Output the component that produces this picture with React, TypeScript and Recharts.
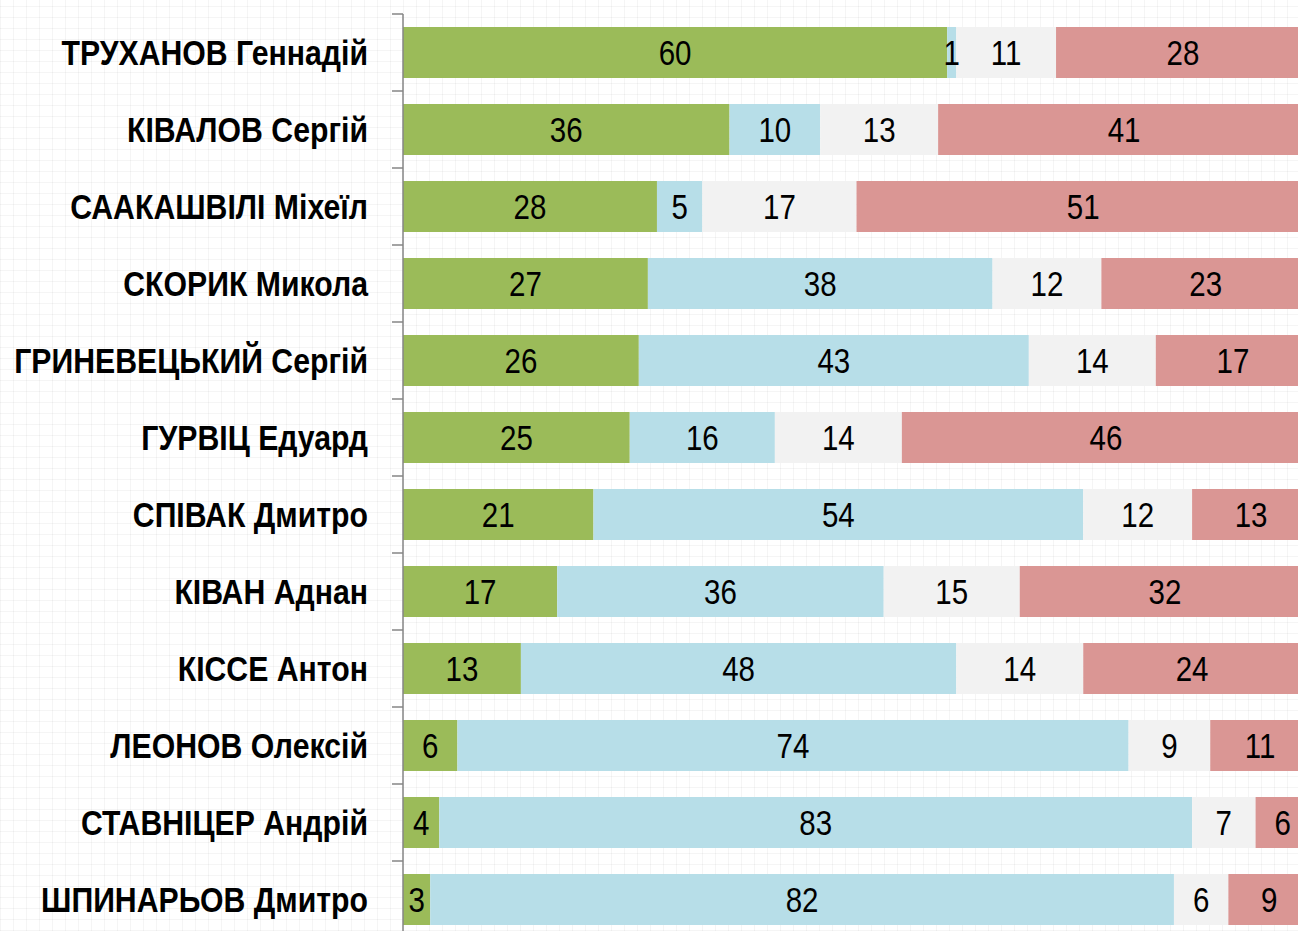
import React from "react";
import { BarChart, Bar, XAxis, YAxis, LabelList } from "recharts";

const names = [
  "ТРУХАНОВ Геннадій",
  "КІВАЛОВ Сергій",
  "СААКАШВІЛІ Міхеїл",
  "СКОРИК Микола",
  "ГРИНЕВЕЦЬКИЙ Сергій",
  "ГУРВІЦ Едуард",
  "СПІВАК Дмитро",
  "КІВАН Аднан",
  "КІССЕ Антон",
  "ЛЕОНОВ Олексій",
  "СТАВНІЦЕР Андрій",
  "ШПИНАРЬОВ Дмитро",
];
const greenVals = [60, 36, 28, 27, 26, 25, 21, 17, 13, 6, 4, 3];
const blueVals = [1, 10, 5, 38, 43, 16, 54, 36, 48, 74, 83, 82];
const grayVals = [11, 13, 17, 12, 14, 14, 12, 15, 14, 9, 7, 6];
const redVals = [28, 41, 51, 23, 17, 46, 13, 32, 24, 11, 6, 9];

const data = names.map((name, i) => ({
  name,
  a: greenVals[i],
  b: blueVals[i],
  c: grayVals[i],
  d: redVals[i],
}));

const FONT = "'Liberation Sans', Arial, sans-serif";
const CHART_W = 1310;
const CHART_H = 950;
const M_TOP = 14;
const M_BOTTOM = 12;
const BAND = (CHART_H - M_TOP - M_BOTTOM) / names.length;
const AXIS_COLOR = "#868686";

const Tick = (props: any) => {
  const { x, y, payload, index } = props;
  return (
    <g>
      <line x1={x + 24} x2={x + 35} y1={y - BAND / 2} y2={y - BAND / 2} stroke={AXIS_COLOR} strokeWidth={1.5} />
      {index === names.length - 1 && (
        <line x1={x + 24} x2={x + 35} y1={y + BAND / 2} y2={y + BAND / 2} stroke={AXIS_COLOR} strokeWidth={1.5} />
      )}
      <text
        transform={`translate(${x},${y}) scale(0.84,1)`}
        x={0}
        y={0}
        dy="0.36em"
        textAnchor="end"
        fontFamily={FONT}
        fontWeight="bold"
        fontSize={36}
        fill="#000"
      >
        {payload.value}
      </text>
    </g>
  );
};

const ValueLabel = (props: any) => {
  const { x, y, width, height, value } = props;
  const cx = Number(x) + Number(width) / 2;
  const cy = Number(y) + Number(height) / 2;
  return (
    <text
      transform={`translate(${cx},${cy}) scale(0.82,1)`}
      x={0}
      y={0}
      dy="0.36em"
      textAnchor="middle"
      fontFamily={FONT}
      fontSize={36}
      fill="#000"
    >
      {value}
    </text>
  );
};

export default function App() {
  return (
    <div
      style={{
        position: "fixed",
        left: 0,
        top: 0,
        width: 1298,
        height: 931,
        overflow: "hidden",
        backgroundColor: "#fff",
        backgroundImage:
          "repeating-linear-gradient(0deg, rgba(0,0,0,0.04) 0px, rgba(0,0,0,0.04) 1px, transparent 1px, transparent 11px), repeating-linear-gradient(90deg, rgba(0,0,0,0.04) 0px, rgba(0,0,0,0.04) 1px, transparent 1px, transparent 13px)",
      }}
    >
      <BarChart
        width={CHART_W}
        height={CHART_H}
        data={data}
        layout="vertical"
        margin={{ top: M_TOP, right: 0, bottom: M_BOTTOM, left: 0 }}
      >
        <XAxis type="number" domain={[0, 100]} hide allowDataOverflow />
        <YAxis
          type="category"
          dataKey="name"
          width={403}
          tickSize={0}
          tickMargin={35}
          tickLine={false}
          axisLine={{ stroke: AXIS_COLOR, strokeWidth: 1.5 }}
          tick={<Tick />}
          interval={0}
        />
        <Bar dataKey="a" stackId="s" fill="#9BBB59" barSize={51} isAnimationActive={false}>
          <LabelList dataKey="a" content={<ValueLabel />} />
        </Bar>
        <Bar dataKey="b" stackId="s" fill="#B7DEE8" barSize={51} isAnimationActive={false}>
          <LabelList dataKey="b" content={<ValueLabel />} />
        </Bar>
        <Bar dataKey="c" stackId="s" fill="#F2F2F2" barSize={51} isAnimationActive={false}>
          <LabelList dataKey="c" content={<ValueLabel />} />
        </Bar>
        <Bar dataKey="d" stackId="s" fill="#DA9694" barSize={51} isAnimationActive={false}>
          <LabelList dataKey="d" content={<ValueLabel />} />
        </Bar>
      </BarChart>
    </div>
  );
}
